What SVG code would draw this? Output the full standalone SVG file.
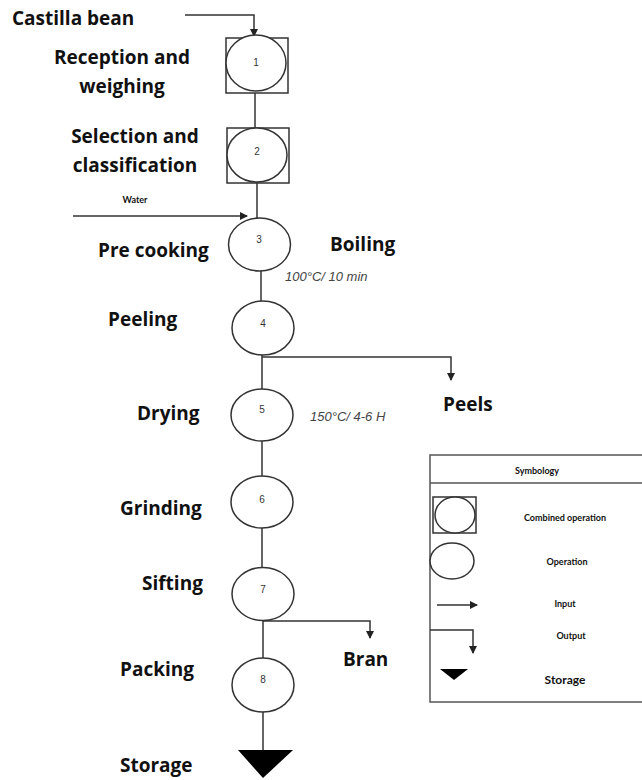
<svg xmlns="http://www.w3.org/2000/svg" width="642" height="780" viewBox="0 0 642 780">
<defs>
<style>
.lbl{font-family:"Open Sans","Liberation Sans",sans-serif;font-weight:bold;font-size:19px;fill:#111}
.num{font-family:"Liberation Sans",sans-serif;font-size:10px;fill:#333;text-anchor:middle}
.ital{font-family:"Liberation Sans",sans-serif;font-style:italic;font-size:13px;fill:#444}
.sm{font-family:Lato,"Liberation Sans",sans-serif;font-weight:bold;font-size:9px;fill:#111;text-anchor:middle}
.ln{stroke:#333;stroke-width:1.5;fill:none}
.sh{stroke:#333;stroke-width:1.5;fill:#fff}
</style>
<marker id="ah" markerWidth="8" markerHeight="8" refX="7" refY="4" orient="auto" markerUnits="userSpaceOnUse"><path d="M0,0 L8,4 L0,8 Z" fill="#222"/></marker>
</defs>
<rect width="642" height="780" fill="#fff"/>
<g id="connectors">
<path class="ln" d="M185,15 H254 V36" marker-end="url(#ah)"/>
<path class="ln" d="M255,92 V128"/>
<path class="ln" d="M257,183 V218"/>
<path class="ln" d="M73,216 H247" marker-end="url(#ah)"/>
<path class="ln" d="M261,271 V301"/>
<path class="ln" d="M262,355 V389"/>
<path class="ln" d="M262,357 H451 V380" marker-end="url(#ah)"/>
<path class="ln" d="M262,441 V476"/>
<path class="ln" d="M262,528 V567"/>
<path class="ln" d="M263,620 V658"/>
<path class="ln" d="M263,621 H370 V638" marker-end="url(#ah)"/>
<path class="ln" d="M263,712 V750"/>
</g>
<g id="n1"><rect class="sh" x="226" y="38" width="62" height="55"/><ellipse class="sh" cx="256" cy="63" rx="30" ry="28"/><text class="num" x="256" y="66">1</text></g>
<g id="n2"><rect class="sh" x="227" y="128" width="62" height="55"/><ellipse class="sh" cx="257" cy="155" rx="30" ry="27"/><text class="num" x="257" y="155">2</text></g>
<g id="n3"><ellipse class="sh" cx="259.5" cy="244.5" rx="31" ry="26.5"/><text class="num" x="259" y="243">3</text></g>
<g id="n4"><ellipse class="sh" cx="263" cy="328" rx="31" ry="27"/><text class="num" x="263" y="327">4</text></g>
<g id="n5"><ellipse class="sh" cx="262" cy="415" rx="31" ry="26"/><text class="num" x="262" y="413">5</text></g>
<g id="n6"><ellipse class="sh" cx="262" cy="502" rx="31" ry="26"/><text class="num" x="262" y="503">6</text></g>
<g id="n7"><ellipse class="sh" cx="263" cy="594" rx="31" ry="26.5"/><text class="num" x="263" y="593">7</text></g>
<g id="n8"><ellipse class="sh" cx="263" cy="685" rx="31" ry="27"/><text class="num" x="263" y="683">8</text></g>
<g id="storage"><path d="M238,750 H293 L263,778 Z" fill="#000"/></g>
<g id="labels">
<text class="lbl" x="12" y="25">Castilla bean</text>
<text class="lbl" x="122" y="64" text-anchor="middle">Reception and</text>
<text class="lbl" x="122" y="93" text-anchor="middle">weighing</text>
<text class="lbl" x="135" y="143" text-anchor="middle">Selection and</text>
<text class="lbl" x="135" y="172" text-anchor="middle">classification</text>
<text class="sm" x="135" y="203">Water</text>
<text class="lbl" x="98" y="257">Pre cooking</text>
<text class="lbl" x="330" y="251">Boiling</text>
<text class="ital" x="285" y="281">100°C/ 10 min</text>
<text class="lbl" x="108" y="326">Peeling</text>
<text class="lbl" x="443" y="411">Peels</text>
<text class="lbl" x="137" y="420">Drying</text>
<text class="ital" x="310" y="421">150°C/ 4-6 H</text>
<text class="lbl" x="120" y="515">Grinding</text>
<text class="lbl" x="142" y="590">Sifting</text>
<text class="lbl" x="343" y="666">Bran</text>
<text class="lbl" x="120" y="676">Packing</text>
<text class="lbl" x="120" y="772">Storage</text>
</g>
<g id="legend">
<rect x="430" y="455" width="220" height="247" fill="none" stroke="#555" stroke-width="1.5"/>
<line x1="430" y1="483" x2="642" y2="483" stroke="#555" stroke-width="1.5"/>
<text class="sm" x="537" y="474">Symbology</text>
<rect class="sh" x="433" y="497" width="43" height="36"/><ellipse class="sh" cx="455" cy="515" rx="20" ry="18"/>
<text class="sm" x="565" y="521">Combined operation</text>
<ellipse class="sh" cx="452" cy="561" rx="22" ry="18"/>
<text class="sm" x="567" y="565">Operation</text>
<path class="ln" d="M437,605 H477" marker-end="url(#ah)"/>
<text class="sm" x="565" y="607">Input</text>
<path class="ln" d="M430,630 H473 V653" marker-end="url(#ah)"/>
<text class="sm" x="571" y="639">Output</text>
<path d="M440,669 H468 L454,680 Z" fill="#000"/>
<text class="sm" x="565" y="684" style="font-size:12px">Storage</text>
</g>
</svg>
